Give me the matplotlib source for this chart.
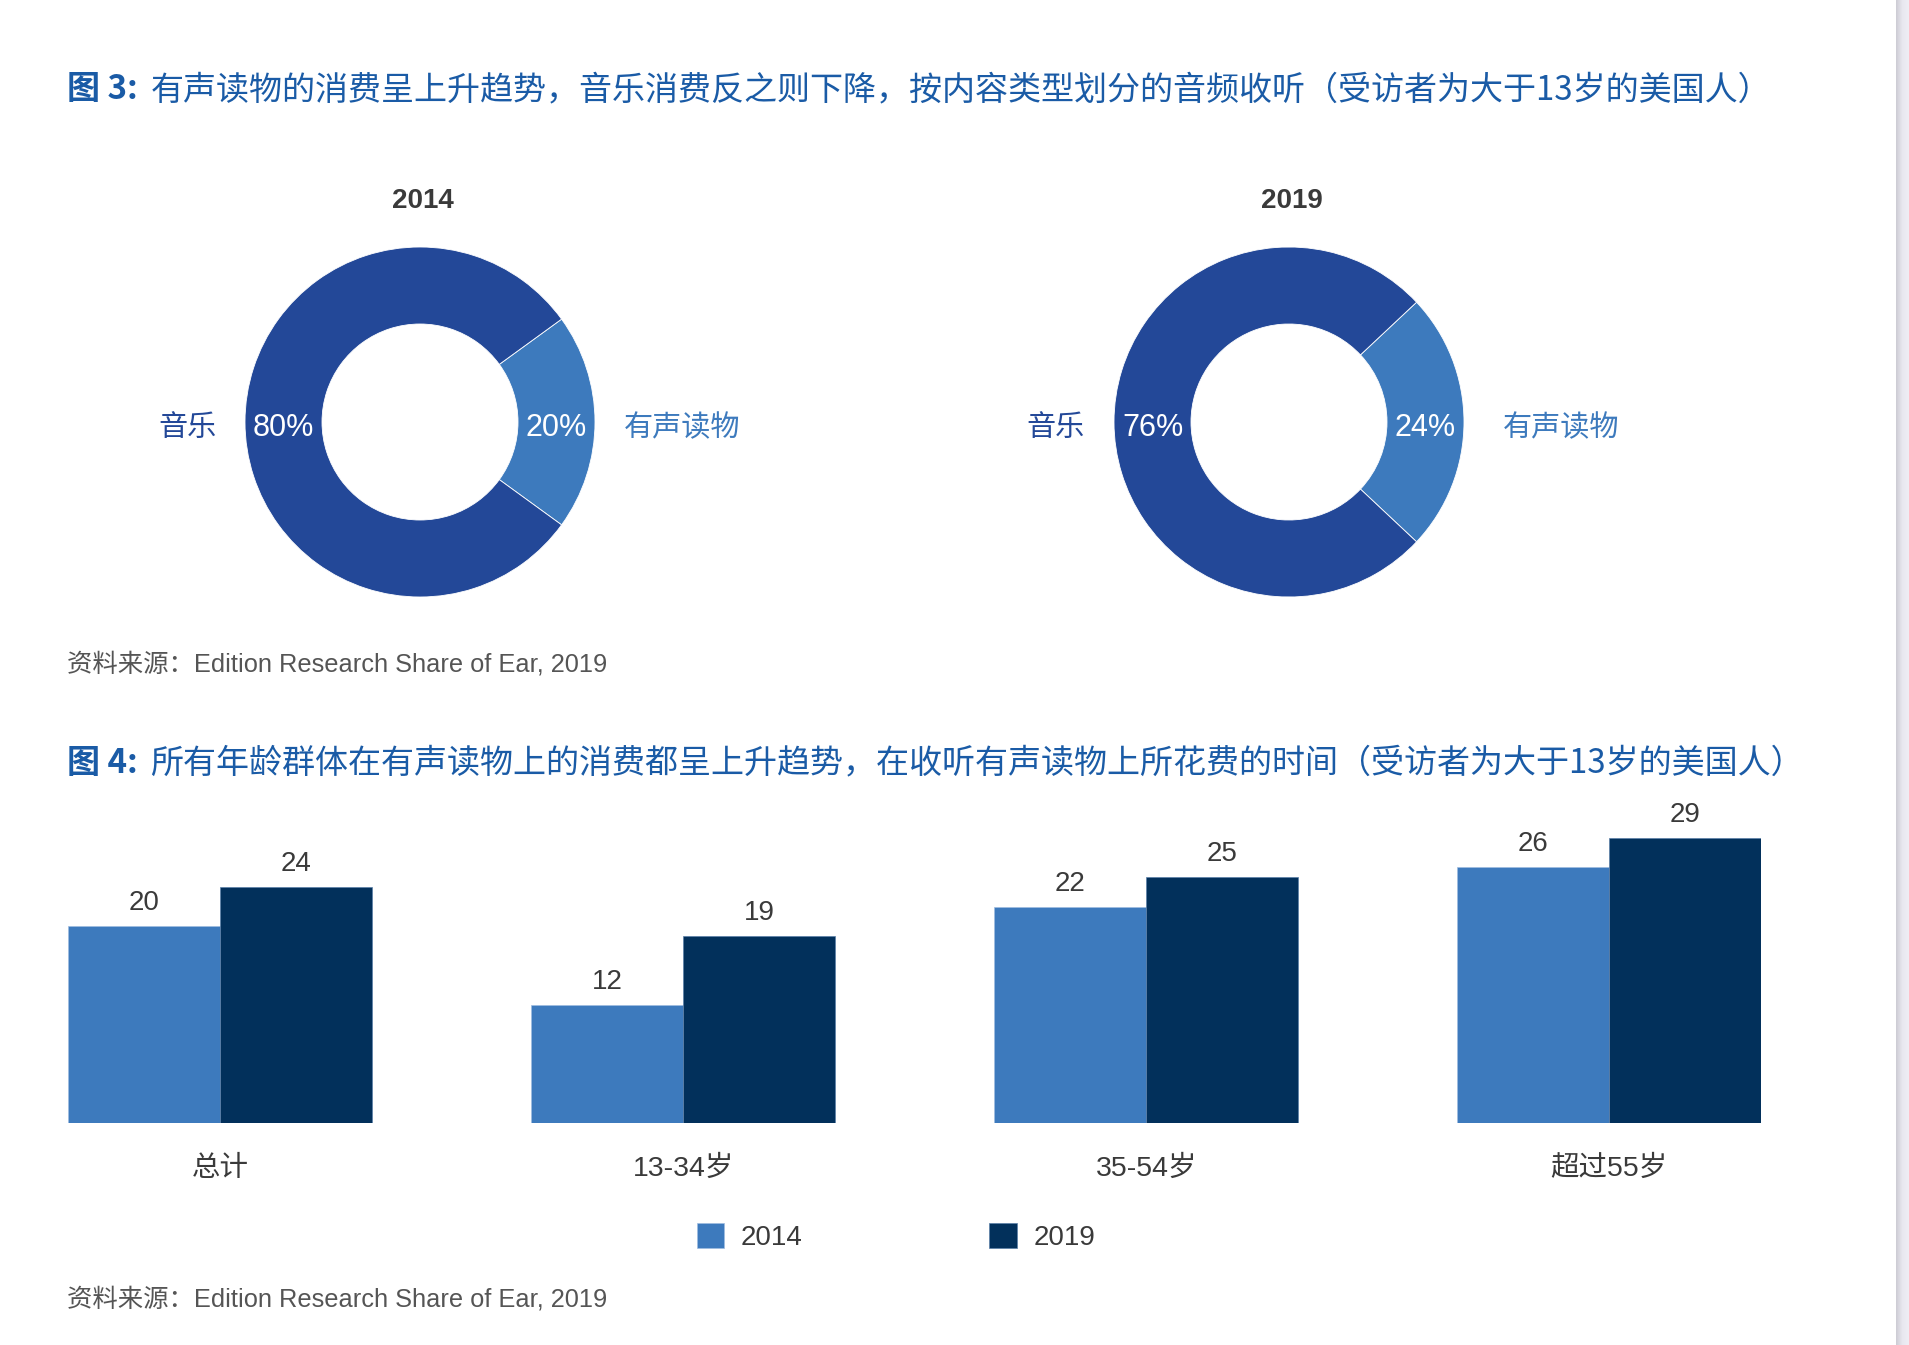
import numpy as np
import matplotlib
matplotlib.use("Agg")
import matplotlib.pyplot as plt
from matplotlib.colors import LinearSegmentedColormap

# ---------------- data ----------------
donut_years = ["2014", "2019"]
donut_labels = ["有声读物", "音乐"]
donut_2014 = [20, 80]
donut_2019 = [24, 76]

bar_categories = ["总计", "13-34岁", "35-54岁", "超过55岁"]
bar_series = ["2014", "2019"]
bar_2014 = [20, 12, 22, 26]
bar_2019 = [24, 19, 25, 29]

title3_head = "图 3:"
title3_body = "有声读物的消费呈上升趋势，音乐消费反之则下降，按内容类型划分的音频收听（受访者为大于13岁的美国人）"
title4_head = "图 4:"
title4_body = "所有年龄群体在有声读物上的消费都呈上升趋势，在收听有声读物上所花费的时间（受访者为大于13岁的美国人）"
source_text = "资料来源：Edition Research Share of Ear, 2019"

# ---------------- style ----------------
W, H = 1909, 1345
C_TITLE = "#1a5ba6"
C_MUSIC = "#234898"
C_BOOK = "#3d7abd"
C_2019 = "#02305b"
C_TEXT = "#3a3a3a"
C_SRC = "#555555"
CJK = ["Noto Sans CJK SC", "DejaVu Sans"]
LAT = ["Liberation Sans", "Noto Sans CJK SC", "DejaVu Sans"]

fig = plt.figure(figsize=(W / 100, H / 100), dpi=100)
fig.patch.set_facecolor("white")


def fx(x):
    return x / W


def fy(y):
    return 1 - y / H


def ftext(x, y, s, **kw):
    fig.text(fx(x), fy(y), s, **kw)


# right page-edge strip
ax_strip = fig.add_axes([fx(1896), 0, (W - 1896) / W, 1])
grad = np.linspace(0, 1, 50).reshape(1, -1)
cm = LinearSegmentedColormap.from_list("edge", ["#cdccd4", "#e9e8f0", "#efeef5"])
ax_strip.imshow(grad, aspect="auto", cmap=cm, extent=[0, 1, 0, 1])
ax_strip.axis("off")

# titles
TS = 23.8
ftext(67, 90, title3_head, fontsize=TS, color=C_TITLE, fontweight="bold",
      family=CJK, va="center", ha="left")
ftext(151, 90, title3_body, fontsize=TS, color=C_TITLE, family=CJK,
      va="center", ha="left")
ftext(67, 763, title4_head, fontsize=TS, color=C_TITLE, fontweight="bold",
      family=CJK, va="center", ha="left")
ftext(150, 763, title4_body, fontsize=TS, color=C_TITLE, family=CJK,
      va="center", ha="left")

# sources
ftext(67, 664, source_text, fontsize=18.3, color=C_SRC, family=LAT, va="center", ha="left")
ftext(67, 1299, source_text, fontsize=18.3, color=C_SRC, family=LAT, va="center", ha="left")

# ---------------- donuts ----------------
R_PX = 175.0
INNER = 98.0 / 175.0
K = 1.6  # axes half-size in radius units
DY = -6.0 / R_PX  # text baseline nudge
donut_centers = [(420, 422), (1289, 422)]
book_label_r = [1.165, 1.22]
for (cx, cy), year, vals, blr in zip(donut_centers, donut_years,
                                     [donut_2014, donut_2019], book_label_r):
    half = R_PX * K
    ax = fig.add_axes([fx(cx - half), fy(cy + half), 2 * half / W, 2 * half / H])
    frac = vals[0] / sum(vals)
    start = -frac * 180.0
    wedges, _ = ax.pie(vals, startangle=start, counterclock=True,
                       colors=[C_BOOK, C_MUSIC], radius=1.0,
                       wedgeprops=dict(width=1 - INNER, edgecolor="white", linewidth=0.6))
    ax.set_xlim(-K, K)
    ax.set_ylim(-K, K)
    ax.set_aspect("equal")
    ax.axis("off")
    rmid = (1 + INNER) / 2
    for w, v, lab in zip(wedges, vals, donut_labels):
        ang = np.deg2rad((w.theta1 + w.theta2) / 2)
        ax.text(rmid * np.cos(ang), rmid * np.sin(ang) + DY, f"{v}%", color="white",
                fontsize=22, family=LAT, ha="center", va="center")
        if np.cos(ang) > 0:
            ax.text(blr, DY, lab, color=C_BOOK, fontsize=21, family=CJK,
                    ha="left", va="center")
        else:
            ax.text(-1.165, DY, lab, color=C_MUSIC, fontsize=21, family=CJK,
                    ha="right", va="center")
    ftext(cx + 3, 201, year, fontsize=20, color=C_TEXT, family=LAT,
          fontweight="bold", ha="center", va="center")

# ---------------- bars ----------------
UNIT = 463.1
BW_PX = 152.0
bw = BW_PX / UNIT
left_px = 68.0
right_px = left_px + UNIT * 3 + 2 * BW_PX
base_px = 1123.0
PX_PER_VAL = 9.83
top_px = 823.0
axb = fig.add_axes([fx(left_px), fy(base_px), (right_px - left_px) / W, (base_px - top_px) / H])
x = np.arange(len(bar_categories))
b1 = axb.bar(x - bw / 2, bar_2014, bw, color=C_BOOK, edgecolor="#9fbde0", linewidth=0.5, label=bar_series[0])
b2 = axb.bar(x + bw / 2, bar_2019, bw, color=C_2019, edgecolor="#5a7fa8", linewidth=0.5, label=bar_series[1])
axb.set_xlim(-bw, len(bar_categories) - 1 + bw)
axb.set_ylim(0, (base_px - top_px) / PX_PER_VAL)
axb.axis("off")
for bars in (b1, b2):
    for r in bars:
        axb.annotate(f"{int(r.get_height())}", (r.get_x() + r.get_width() / 2, r.get_height()),
                     xytext=(0, 10), textcoords="offset pixels", ha="center", va="bottom",
                     fontsize=20, color=C_TEXT, family=LAT)
for xi, cat in zip(x, bar_categories):
    axb.annotate(cat, (xi, 0), xytext=(0, -46), textcoords="offset pixels",
                 ha="center", va="center", fontsize=20.5, color=C_TEXT, family=LAT)

# legend
leg = fig.legend(handles=[b1, b2], labels=bar_series, loc="center",
                 bbox_to_anchor=(fx(896), fy(1237)), ncol=2, frameon=False,
                 prop=dict(family=LAT, size=20), labelcolor=C_TEXT,
                 handlelength=1.0, handleheight=1.0, handletextpad=0.6,
                 columnspacing=6.7)

fig.savefig("out.png", dpi=100, facecolor="white")
